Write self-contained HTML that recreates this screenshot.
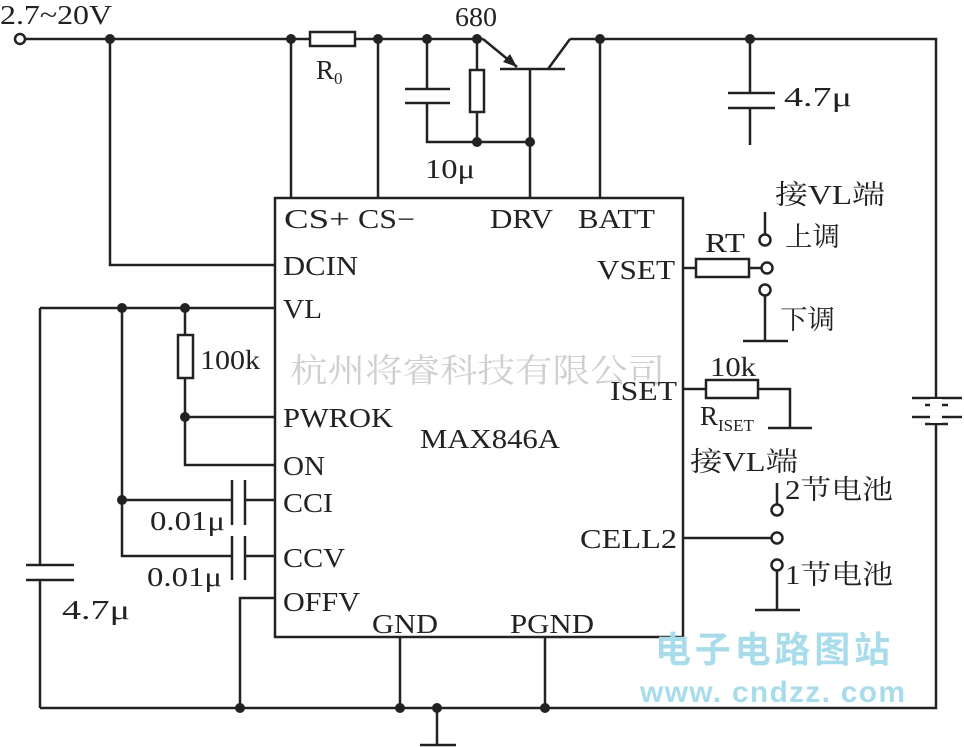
<!DOCTYPE html>
<html><head><meta charset="utf-8"><style>
html,body{margin:0;padding:0;background:#fff;}
svg{display:block;}
text{font-family:"Liberation Serif","Noto Serif CJK SC",serif;fill:#222;}
.cj{font-family:"Liberation Serif","Noto Serif CJK SC",serif;}
</style></head><body>
<svg width="964" height="747" viewBox="0 0 964 747" xmlns="http://www.w3.org/2000/svg">
<g stroke="#222" stroke-width="2.5" fill="none">
<path d="M26 39 H310 M355 39 H483 M570 39 H936 V708 H40"/>
<circle cx="20" cy="39" r="5" fill="#fff"/>
<rect x="310" y="32" width="45" height="14"/>
<path d="M110 39 V265 H275 M291 39 V198 M378 39 V198 M600 39 V198"/>
<path d="M427 39 V89 M405 89 H450 M405 103 H450 M427 103 V142 H530 M477 39 V70 M477 112 V142"/>
<rect x="470" y="70" width="14" height="42"/>
<path d="M500 69 H565 M530 69 V198 M483 39 L517 67 M548 69 L570 39"/>
<path d="M750 39 V93 M728 93 H775 M728 108 H775 M750 108 V145"/>
<rect x="275" y="198" width="408" height="439"/>
<path d="M40 308 H275 M122 308 V556 H232 M245 556 H275 M122 500 H232 M245 500 H275 M185 308 V335 M185 378 V465 H275 M185 417 H275"/>
<rect x="178" y="335" width="15" height="43"/>
<path d="M232 480 V525 M245 480 V525 M232 536 V580 M245 536 V580"/>
<path d="M40 308 V565 M26 565 H74 M26 580 H74 M40 580 V708"/>
<path d="M275 598 H240 V708 M400 637 V708 M545 637 V708 M437 708 V745 M420 745 H456"/>
<path d="M912 398 H962 M925 405 H948 M912 417 H962 M925 424 H948"/>
<rect x="930" y="399" width="12" height="24" fill="#fff" stroke="none"/>
<path d="M683 268 H696 M749 268 H761"/>
<rect x="696" y="259" width="53" height="18"/>
<circle cx="767" cy="268" r="5.5"/>
<path d="M765 212 V234 M765 296 V341 M743 341 H788"/>
<circle cx="765" cy="240" r="5.5"/>
<circle cx="765" cy="290" r="5.5"/>
<path d="M683 389 H706 M758 389 H790 V428 M768 428 H812"/>
<rect x="706" y="380" width="52" height="18"/>
<path d="M683 538 H771 M777 483 V504 M777 571 V610 M755 610 H800"/>
<circle cx="777" cy="538" r="5.5"/>
<circle cx="777" cy="510" r="5.5"/>
<circle cx="777" cy="565" r="5.5"/>
</g>
<path d="M517 67 L503 62 L510 54 Z" fill="#222"/>
<g fill="#222">
<circle cx="110" cy="39" r="5"/><circle cx="291" cy="39" r="5"/><circle cx="378" cy="39" r="5"/>
<circle cx="427" cy="39" r="5"/><circle cx="477" cy="39" r="5"/><circle cx="600" cy="39" r="5"/><circle cx="750" cy="39" r="5"/>
<circle cx="477" cy="142" r="5"/><circle cx="530" cy="142" r="5"/>
<circle cx="122" cy="308" r="5"/><circle cx="185" cy="308" r="5"/><circle cx="185" cy="417" r="5"/><circle cx="122" cy="500" r="5"/>
<circle cx="240" cy="708" r="5"/><circle cx="400" cy="708" r="5"/><circle cx="437" cy="708" r="5"/><circle cx="545" cy="708" r="5"/>
</g>
<text x="290" y="382" font-size="33" style="fill:#cfcfcf" class="cj" textLength="375" lengthAdjust="spacingAndGlyphs">杭州将睿科技有限公司</text>
<g font-size="27">
<text x="0" y="24" textLength="112" lengthAdjust="spacingAndGlyphs">2.7~20V</text>
<text x="455" y="26" textLength="42" lengthAdjust="spacingAndGlyphs">680</text>
<text x="316" y="79">R</text><text x="334" y="84" font-size="17">0</text>
<text x="425" y="178" textLength="50" lengthAdjust="spacingAndGlyphs">10μ</text>
<text x="784" y="106" textLength="68" lengthAdjust="spacingAndGlyphs">4.7μ</text>
<text x="284" y="228" textLength="66" lengthAdjust="spacingAndGlyphs">CS+</text>
<text x="358" y="228" textLength="57" lengthAdjust="spacingAndGlyphs">CS−</text>
<text x="490" y="228" textLength="63" lengthAdjust="spacingAndGlyphs">DRV</text>
<text x="578" y="228" textLength="77" lengthAdjust="spacingAndGlyphs">BATT</text>
<text x="283" y="275" textLength="75" lengthAdjust="spacingAndGlyphs">DCIN</text>
<text x="283" y="318" textLength="39" lengthAdjust="spacingAndGlyphs">VL</text>
<text x="283" y="427" textLength="110" lengthAdjust="spacingAndGlyphs">PWROK</text>
<text x="283" y="475" textLength="42" lengthAdjust="spacingAndGlyphs">ON</text>
<text x="283" y="512" textLength="50" lengthAdjust="spacingAndGlyphs">CCI</text>
<text x="283" y="567" textLength="62" lengthAdjust="spacingAndGlyphs">CCV</text>
<text x="283" y="611" textLength="77" lengthAdjust="spacingAndGlyphs">OFFV</text>
<text x="372" y="633" textLength="66" lengthAdjust="spacingAndGlyphs">GND</text>
<text x="510" y="633" textLength="84" lengthAdjust="spacingAndGlyphs">PGND</text>
<text x="420" y="448" textLength="140" lengthAdjust="spacingAndGlyphs">MAX846A</text>
<text x="597" y="279" textLength="78" lengthAdjust="spacingAndGlyphs">VSET</text>
<text x="610" y="400" textLength="67" lengthAdjust="spacingAndGlyphs">ISET</text>
<text x="580" y="548" textLength="97" lengthAdjust="spacingAndGlyphs">CELL2</text>
<text x="200" y="369" textLength="60" lengthAdjust="spacingAndGlyphs">100k</text>
<text x="150" y="530" textLength="75" lengthAdjust="spacingAndGlyphs">0.01μ</text>
<text x="147" y="586" textLength="75" lengthAdjust="spacingAndGlyphs">0.01μ</text>
<text x="62" y="619" textLength="68" lengthAdjust="spacingAndGlyphs">4.7μ</text>
<text x="705" y="252" textLength="40" lengthAdjust="spacingAndGlyphs">RT</text>
<text x="710" y="376" textLength="46" lengthAdjust="spacingAndGlyphs">10k</text>
<text x="700" y="425">R</text><text x="718" y="431" font-size="17">ISET</text>
<text x="775" y="204" class="cj" textLength="110" lengthAdjust="spacingAndGlyphs">接VL端</text>
<text x="785" y="246" class="cj" textLength="55" lengthAdjust="spacingAndGlyphs">上调</text>
<text x="780" y="329" class="cj" textLength="55" lengthAdjust="spacingAndGlyphs">下调</text>
<text x="690" y="471" class="cj" textLength="108" lengthAdjust="spacingAndGlyphs">接VL端</text>
<text x="785" y="499" class="cj" textLength="108" lengthAdjust="spacingAndGlyphs">2节电池</text>
<text x="785" y="584" class="cj" textLength="108" lengthAdjust="spacingAndGlyphs">1节电池</text>
</g>
<text x="655" y="662" font-size="36" style="fill:#a9dcea;font-family:'Noto Sans CJK SC',sans-serif;font-weight:bold" textLength="235">电子电路图站</text>
<text x="640" y="702" font-size="30" style="fill:#a9dcea;font-family:'Liberation Sans',sans-serif;font-weight:bold" textLength="265">www. cndzz. com</text>
</svg>
</body></html>
